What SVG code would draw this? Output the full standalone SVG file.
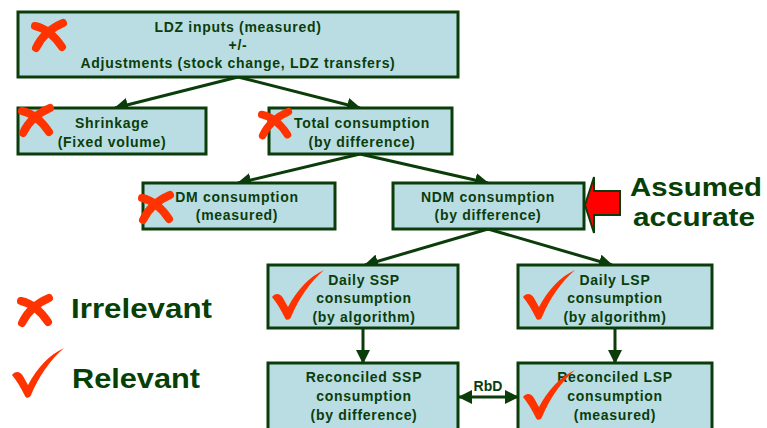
<svg xmlns="http://www.w3.org/2000/svg" width="767" height="428" viewBox="0 0 767 428">
<style>
.box{fill:#b9dde3;stroke:#0b3d0b;stroke-width:3}
.t{font-family:"Liberation Sans",Arial,sans-serif;font-weight:bold;font-size:14px;fill:#0b3d0b;text-anchor:middle;letter-spacing:0.7px}
.big{font-family:"Liberation Sans",Arial,sans-serif;font-weight:bold;font-size:28px;fill:#064006}
.big2{font-family:"Liberation Sans",Arial,sans-serif;font-weight:bold;font-size:26px;fill:#064006}
.con{stroke:#0b3d0b;stroke-width:3;fill:none}
.mark{fill:#ff3300}
.xs{fill:none;stroke:#ff3300;stroke-width:8;stroke-linecap:round}
</style>
<defs>
<marker id="ah" markerUnits="userSpaceOnUse" markerWidth="14" markerHeight="14" viewBox="0 0 14 14" refX="13" refY="7" orient="auto-start-reverse">
<path d="M0,0 L14,7 L0,14 Z" fill="#0b3d0b"/>
</marker>
<g id="cross">
<path class="xs" d="M5,8 Q20,11 32,29"/>
<path class="xs" d="M33,5 Q14,13 6,30"/>
</g>
<path id="check" class="mark" d="M0,27 C3,23 8,23 11,28 L16,37 C25,20 37,7 52,0 C38,12 27,28 19,47 C18,50 14,51 13,48 C9,40 5,33 0,27 Z"/>
</defs>

<g id="connectors">
<line class="con" x1="238" y1="77" x2="115" y2="108" marker-end="url(#ah)"/>
<line class="con" x1="238" y1="77" x2="360" y2="108" marker-end="url(#ah)"/>
<line class="con" x1="360" y1="154" x2="238" y2="183" marker-end="url(#ah)"/>
<line class="con" x1="360" y1="154" x2="488" y2="183" marker-end="url(#ah)"/>
<line class="con" x1="488" y1="229" x2="365" y2="265" marker-end="url(#ah)"/>
<line class="con" x1="488" y1="229" x2="612" y2="265" marker-end="url(#ah)"/>
<line class="con" x1="363" y1="328" x2="363" y2="363" marker-end="url(#ah)"/>
<line class="con" x1="615" y1="328" x2="615" y2="363" marker-end="url(#ah)"/>
<line class="con" x1="459" y1="397" x2="518" y2="397" marker-start="url(#ah)" marker-end="url(#ah)"/>
<text class="t" x="488" y="391" style="letter-spacing:0">RbD</text>
</g>

<g id="ldz">
<rect class="box" x="18" y="12" width="440" height="65"/>
<text class="t" x="238" y="32">LDZ inputs (measured)</text>
<text class="t" x="238" y="50">+/-</text>
<text class="t" x="238" y="68">Adjustments (stock change, LDZ transfers)</text>
<use href="#cross" transform="translate(30,18)"/>
</g>

<g id="shrinkage">
<rect class="box" x="18" y="108" width="188" height="46"/>
<text class="t" x="112" y="128">Shrinkage</text>
<text class="t" x="112" y="147">(Fixed volume)</text>
<use href="#cross" transform="translate(17,103)"/>
</g>

<g id="total">
<rect class="box" x="269" y="108" width="183" height="46"/>
<text class="t" x="362" y="128">Total consumption</text>
<text class="t" x="362" y="147">(by difference)</text>
<use href="#cross" transform="translate(257,107) scale(0.95)"/>
</g>

<g id="dm">
<rect class="box" x="143" y="183" width="192" height="46"/>
<text class="t" x="237" y="202">DM consumption</text>
<text class="t" x="237" y="220">(measured)</text>
<use href="#cross" transform="translate(137,190)"/>
</g>

<g id="ndm">
<rect class="box" x="393" y="183" width="191" height="46"/>
<text class="t" x="488" y="202">NDM consumption</text>
<text class="t" x="488" y="220">(by difference)</text>
</g>

<g id="assumed">
<polygon points="585,205 594,177 594,191 620,191 620,215 594,215 594,233" fill="#ff0000" stroke="#0b3d0b" stroke-width="2"/>
<text class="big2" x="630" y="196" textLength="132" lengthAdjust="spacingAndGlyphs">Assumed</text>
<text class="big2" x="633" y="226" textLength="122" lengthAdjust="spacingAndGlyphs">accurate</text>
</g>

<g id="dailyssp">
<rect class="box" x="268" y="265" width="190" height="63"/>
<text class="t" x="364" y="285">Daily SSP</text>
<text class="t" x="364" y="303">consumption</text>
<text class="t" x="364" y="322">(by algorithm)</text>
<use href="#check" transform="translate(272,270)"/>
</g>

<g id="dailylsp">
<rect class="box" x="518" y="265" width="194" height="63"/>
<text class="t" x="615" y="285">Daily LSP</text>
<text class="t" x="615" y="303">consumption</text>
<text class="t" x="615" y="322">(by algorithm)</text>
<use href="#check" transform="translate(523,270)"/>
</g>

<g id="reconssp">
<rect class="box" x="268" y="363" width="190" height="80"/>
<text class="t" x="364" y="382">Reconciled SSP</text>
<text class="t" x="364" y="401">consumption</text>
<text class="t" x="364" y="420">(by difference)</text>
</g>

<g id="reconlsp">
<rect class="box" x="518" y="363" width="194" height="80"/>
<text class="t" x="615" y="382">Reconciled LSP</text>
<text class="t" x="615" y="401">consumption</text>
<text class="t" x="615" y="420">(measured)</text>
<use href="#check" transform="translate(523,370)"/>
</g>

<g id="legend">
<use href="#cross" transform="translate(16,293)"/>
<text class="big" x="71" y="318" textLength="141" lengthAdjust="spacingAndGlyphs">Irrelevant</text>
<use href="#check" transform="translate(12,348)"/>
<text class="big" x="72" y="388" textLength="128" lengthAdjust="spacingAndGlyphs">Relevant</text>
</g>
</svg>
